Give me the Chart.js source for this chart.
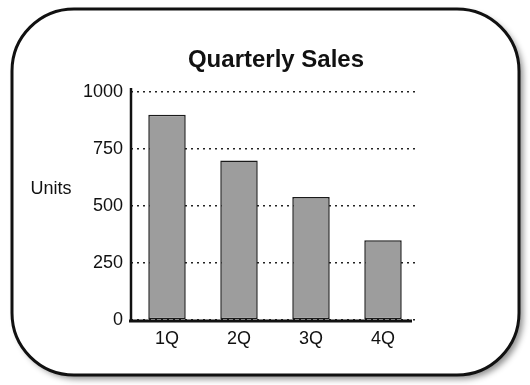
<!DOCTYPE html>
<html>
<head>
<meta charset="utf-8">
<script src="https://cdn.jsdelivr.net/npm/chart.js@4/dist/chart.umd.min.js"></script>
<style>
    html, body { margin: 0; padding: 0; background: #ffffff; }
    #wrap { width: 530px; height: 385px; }
</style>
</head>
<body>
<div id="wrap"><canvas id="sales-chart" width="530" height="385"></canvas></div>
<script>
// Chart data
const quarters = ['1Q', '2Q', '3Q', '4Q'];
const unitsSold = [900, 700, 540, 350];
const yTicks = [0, 250, 500, 750, 1000];
const chartTitle = 'Quarterly Sales';
const yLabel = 'Units';

const FONT = "'Liberation Sans', Arial, sans-serif";

/**
 * Rounded frame, title, axis label and axis lines drawn around the chart
 */
const framePlugin = {
    id: 'frame',
    beforeDraw(chart) {
        const ctx = chart.ctx;
        ctx.save();
        ctx.fillStyle = '#ffffff';
        ctx.fillRect(0, 0, chart.width, chart.height);

        // shadow
        ctx.shadowColor = 'rgba(0, 0, 0, 0.45)';
        ctx.shadowBlur = 6;
        ctx.shadowOffsetX = 4;
        ctx.shadowOffsetY = 4;
        ctx.beginPath();
        ctx.roundRect(12, 9, 507, 366, 62);
        ctx.fillStyle = '#ffffff';
        ctx.fill();

        ctx.shadowColor = 'transparent';
        ctx.lineWidth = 3;
        ctx.strokeStyle = '#111111';
        ctx.stroke();
        ctx.restore();
    },
    afterDraw(chart) {
        const ctx = chart.ctx;
        const area = chart.chartArea;
        const ys = chart.scales.y;
        ctx.save();

        // title
        ctx.font = 'bold 24px ' + FONT;
        ctx.fillStyle = '#111111';
        ctx.textAlign = 'center';
        ctx.textBaseline = 'middle';
        ctx.fillText(chartTitle, 276, 60);

        // horizontal axis label left of the y axis
        ctx.font = '18px ' + FONT;
        ctx.fillText(yLabel, 51, ys.getPixelForValue(575));

        // axis lines
        ctx.strokeStyle = '#111111';
        ctx.lineWidth = 2.5;
        ctx.beginPath();
        ctx.moveTo(area.left, ys.getPixelForValue(1000) - 4);
        ctx.lineTo(area.left, area.bottom);
        ctx.stroke();

        ctx.lineWidth = 3;
        ctx.beginPath();
        ctx.moveTo(area.left - 2, area.bottom + 1);
        ctx.lineTo(area.right - 7, area.bottom + 1);
        ctx.stroke();
        ctx.restore();
    }
};

const ctx = document.getElementById('sales-chart').getContext('2d');

new Chart(ctx, {
    type: 'bar',
    data: {
        labels: quarters,
        datasets: [
            {
                label: yLabel,
                data: unitsSold,
                backgroundColor: '#9d9d9d',
                borderColor: '#1a1a1a',
                borderWidth: 1.5,
                borderSkipped: false,
                barPercentage: 0.52,
                categoryPercentage: 1
            }
        ]
    },
    options: {
        responsive: false,
        animation: false,
        layout: {
            padding: { left: 80, right: 111, top: 92, bottom: 35 }
        },
        plugins: {
            legend: { display: false },
            tooltip: { enabled: false },
            title: { display: false }
        },
        scales: {
            x: {
                grid: { display: false, drawTicks: false },
                border: { display: false },
                ticks: {
                    color: '#111111',
                    padding: 8,
                    font: { family: FONT, size: 18 }
                },
                afterFit(scale) { scale.height = 30; }
            },
            y: {
                min: 0,
                max: 1000,
                afterBuildTicks(scale) {
                    scale.ticks = yTicks.map(v => ({ value: v }));
                },
                grid: {
                    color: '#222222',
                    lineWidth: 1.5,
                    drawTicks: false
                },
                border: { display: false, dash: [2, 4] },
                ticks: {
                    color: '#111111',
                    padding: 8,
                    font: { family: FONT, size: 18 },
                    callback: value => String(value)
                },
                afterFit(scale) { scale.width = 51; }
            }
        }
    },
    plugins: [framePlugin]
});
</script>
</body>
</html>
